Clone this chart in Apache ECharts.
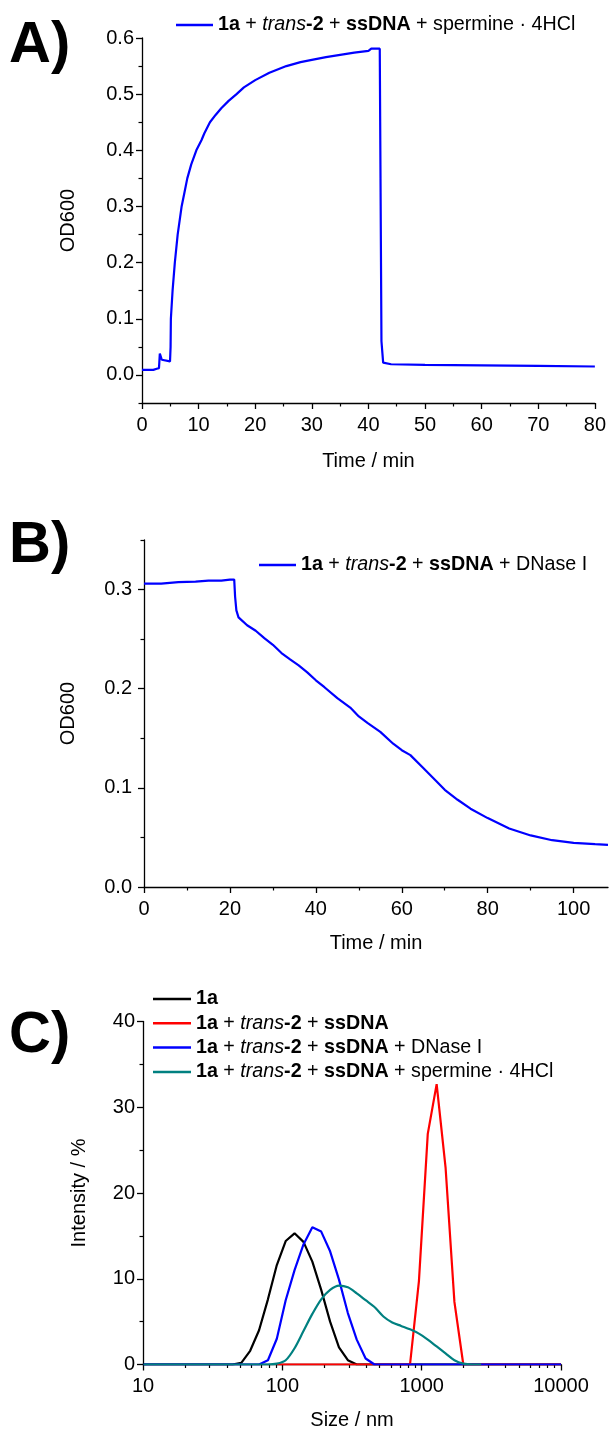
<!DOCTYPE html>
<html><head><meta charset="utf-8">
<script src="https://cdn.jsdelivr.net/npm/echarts@6/dist/echarts.min.js"></script>
<style>html,body{margin:0;padding:0;background:#fff}#c{width:609px;height:1432px}</style>
</head><body><div id="c"></div>
<script>
// ---- Panel A: turbidity vs time (spermine) ----
const timeA=[0,1,2,2.3,2.6,3.0,3.15,3.5,3.8,4.95,5.05,5.1,5.4,5.8,6.3,7.0,7.5,8.0,8.7,9.6,10.5,11,12,13,14,15.3,16.7,18,20,22.5,25.5,28,30,32.5,35,37.5,40,40.5,42.0,42.3,42.6,44,50,60,70,80];
const odA=[0.009,0.009,0.009,0.009,0.011,0.012,0.038,0.027,0.024,0.024,0.05,0.10,0.15,0.20,0.25,0.30,0.325,0.35,0.375,0.40,0.418,0.43,0.45,0.463,0.475,0.488,0.50,0.512,0.525,0.538,0.55,0.557,0.561,0.566,0.570,0.574,0.577,0.581,0.581,0.06,0.022,0.019,0.018,0.017,0.016,0.015];
// ---- Panel B: turbidity vs time (DNase I) ----
const timeB=[0,4,8,12,15,18,20,21,21.2,21.5,22,24,26,28,30,32,34,36,38,40,42,45,48,50,52,55,58,60,62,65,68,70,73,76,80,85,90,95,100,105,108];
const odB=[0.306,0.306,0.3075,0.308,0.309,0.309,0.310,0.310,0.293,0.279,0.272,0.264,0.2585,0.251,0.2443,0.236,0.2295,0.2235,0.2165,0.2085,0.2015,0.1905,0.181,0.172,0.1655,0.1565,0.1445,0.138,0.133,0.120,0.107,0.098,0.088,0.079,0.0695,0.059,0.052,0.0472,0.0445,0.0432,0.0425];
// ---- Panel C: DLS size distributions ----
const sizeBins=[10.1,11.7,13.54,15.69,18.17,21.04,24.36,28.21,32.67,37.84,43.82,50.75,58.77,68.06,78.82,91.28,105.7,122.4,141.8,164.2,190.1,220.2,255.0,295.3,342.0,396.1,458.7,531.2,615.1,712.4,825.0,955.4,1106,1281,1484,1718,1990,2305,2669,3091,3580,4145,4801,5560,6439,7456,8635,10000];
const int1a=[0,0,0,0,0,0,0,0,0,0,0,0.2,1.6,4.0,7.6,11.6,14.4,15.3,14.3,12.0,8.7,5.0,2.0,0.5,0,0,0,0,0,0,0,0,0,0,0,0,0,0,0,0,0,0,0,0,0,0,0,0];
const intDNA=[null,null,null,null,null,null,null,null,null,null,null,null,null,null,null,0,0,0,0,0,0,0,0,0,0,0,0,0,0,0,0,9.7,26.9,32.7,23.0,7.3,0,0,0,0,0,0,0,0,0,0,0,0];
const intDNase=[0,0,0,0,0,0,0,0,0,0,0,0,0,0,0.5,3.0,7.5,11.0,14.0,16.0,15.5,13.2,9.9,6.0,2.9,0.7,0,0,0,0,0,0,0,0,0,0,0,0,0,0,0,0,0,0,0,0,0,0];
const intSperm=[0,0,0,0,0,0,0,0,0,0,0,0,0,0,0,0.1,0.5,1.9,3.9,5.9,7.6,8.7,9.2,9.0,8.3,7.5,6.7,5.6,4.9,4.5,4.1,3.6,2.9,2.1,1.3,0.5,0.1,0,0,null,null,null,null,null,null,null,null,null];
// ---- tick values ----
const yTicksA=[0,0.1,0.2,0.3,0.4,0.5,0.6];
const yMinorA=[-0.05,0.05,0.15,0.25,0.35,0.45,0.55];
const xTicksA=[0,10,20,30,40,50,60,70,80];
const xMinorA=[5,15,25,35,45,55,65,75];
const yTicksB=[0,0.1,0.2,0.3];
const yMinorB=[0.05,0.15,0.25,0.35];
const xTicksB=[0,20,40,60,80,100];
const xMinorB=[10,30,50,70,90];
const yTicksC=[0,10,20,30,40];
const yMinorC=[5,15,25,35];
const xMinorC=[20,30,40,50,60,70,80,90,200,300,400,500,600,700,800,900,2000,3000,4000,5000,6000,7000,8000,9000];

const FF='"Liberation Sans", Arial, sans-serif';
const FS=20;
const LF=19.7;
const pairs=(xs,ys)=>xs.map((x,i)=>[x,ys[i]]).filter(p=>p[1]!=null);
const rich={
  n:{fontSize:LF,fontFamily:FF,color:'#000'},
  b:{fontSize:LF,fontFamily:FF,color:'#000',fontWeight:'bold'},
  i:{fontSize:LF,fontFamily:FF,color:'#000',fontStyle:'italic'}
};
const labels={
  'sA':'{b|1a}{n| + }{i|trans}{b|-2}{n| + }{b|ssDNA}{n| + spermine · 4HCl}',
  'sB':'{b|1a}{n| + }{i|trans}{b|-2}{n| + }{b|ssDNA}{n| + DNase I}',
  'c1':'{b|1a}',
  'c2':'{b|1a}{n| + }{i|trans}{b|-2}{n| + }{b|ssDNA}',
  'c3':'{b|1a}{n| + }{i|trans}{b|-2}{n| + }{b|ssDNA}{n| + DNase I}',
  'c4':'{b|1a}{n| + }{i|trans}{b|-2}{n| + }{b|ssDNA}{n| + spermine · 4HCl}'
};
const axLine={show:true,onZero:false,lineStyle:{color:'#000',width:1.3}};
const lab=(m,fmt)=>({show:true,margin:m,fontSize:FS,fontFamily:FF,color:'#000',formatter:fmt});
function mainAxis(grid,type,min,max,ticks,m,fmt,extra){
  return Object.assign({gridIndex:grid,type:type,min:min,max:max,axisLine:axLine,
    axisTick:{show:true,inside:false,length:6,lineStyle:{color:'#000',width:1.3},customValues:ticks},
    axisLabel:Object.assign(lab(m,fmt),ticks?{customValues:ticks}:{}),
    splitLine:{show:false},minorTick:{show:false}},extra||{});
}
function minorAxis(grid,type,min,max,vals,pos){
  return {gridIndex:grid,type:type,min:min,max:max,position:pos,offset:0,
    axisLine:{show:false,onZero:false},axisLabel:{show:false},splitLine:{show:false},
    axisTick:{show:true,inside:false,length:3.5,lineStyle:{color:'#000',width:1.2},customValues:vals}};
}
const f1=v=>v.toFixed(1);
const fi=v=>String(Math.round(v));
const nameStyle={fontSize:20,fontFamily:FF,color:'#000'};

const option={
  animation:false,
  backgroundColor:'#fff',
  grid:[
    {left:142,top:38,width:453,height:365},
    {left:144,top:540,width:464,height:347},
    {left:143,top:1021.5,width:418,height:343}
  ],
  xAxis:[
    mainAxis(0,'value',0,80,xTicksA,12,fi,{position:'bottom',name:'Time / min',nameLocation:'middle',nameGap:48,nameTextStyle:nameStyle}),
    minorAxis(0,'value',0,80,xMinorA,'bottom'),
    mainAxis(1,'value',0,108,xTicksB,12,fi,{position:'bottom',name:'Time / min',nameLocation:'middle',nameGap:46,nameTextStyle:nameStyle}),
    minorAxis(1,'value',0,108,xMinorB,'bottom'),
    mainAxis(2,'log',10,10000,null,12,fi,{position:'bottom',logBase:10,name:'Size / nm',nameLocation:'middle',nameGap:46,nameTextStyle:nameStyle}),
    minorAxis(2,'log',10,10000,xMinorC,'bottom')
  ],
  yAxis:[
    mainAxis(0,'value',-0.05,0.6,yTicksA,8,f1,{position:'left',name:'OD600',nameLocation:'middle',nameGap:64,nameTextStyle:nameStyle}),
    minorAxis(0,'value',-0.05,0.6,yMinorA,'left'),
    mainAxis(1,'value',0,0.35,yTicksB,12,f1,{position:'left',name:'OD600',nameLocation:'middle',nameGap:66,nameTextStyle:nameStyle}),
    minorAxis(1,'value',0,0.35,yMinorB,'left'),
    mainAxis(2,'value',0,40,yTicksC,8,fi,{position:'left',name:'Intensity / %',nameLocation:'middle',nameGap:54,nameTextStyle:nameStyle}),
    minorAxis(2,'value',0,40,yMinorC,'left')
  ],
  legend:[
    {data:['sA'],left:176,top:15,padding:0,icon:'rect',itemWidth:37,itemHeight:2.5,formatter:n=>labels[n],textStyle:{fontSize:LF,fontFamily:FF,rich:rich}},
    {data:['sB'],left:259,top:555,padding:0,icon:'rect',itemWidth:37,itemHeight:2.5,formatter:n=>labels[n],textStyle:{fontSize:LF,fontFamily:FF,rich:rich}},
    {data:['c1','c2','c3','c4'],orient:'vertical',left:153,top:989,padding:0,itemGap:4.3,icon:'rect',itemWidth:38,itemHeight:2.5,formatter:n=>labels[n],textStyle:{fontSize:LF,fontFamily:FF,rich:rich}}
  ],
  graphic:[
    {type:'text',left:9,top:17,style:{text:'A)',fontSize:58,fontWeight:'bold',fontFamily:FF,fill:'#000'}},
    {type:'text',left:9,top:517,style:{text:'B)',fontSize:58,fontWeight:'bold',fontFamily:FF,fill:'#000'}},
    {type:'text',left:9,top:1007,style:{text:'C)',fontSize:58,fontWeight:'bold',fontFamily:FF,fill:'#000'}}
  ],
  series:[
    {name:'sA',type:'line',xAxisIndex:0,yAxisIndex:0,data:pairs(timeA,odA),showSymbol:false,lineStyle:{width:2.2,color:'#0000ff'},itemStyle:{color:'#0000ff'}},
    {name:'sB',type:'line',xAxisIndex:2,yAxisIndex:2,data:pairs(timeB,odB),showSymbol:false,lineStyle:{width:2.2,color:'#0000ff'},itemStyle:{color:'#0000ff'}},
    {name:'c1',type:'line',xAxisIndex:4,yAxisIndex:4,data:pairs(sizeBins,int1a),showSymbol:false,lineStyle:{width:2.2,color:'#000000'},itemStyle:{color:'#000000'}},
    {name:'c2',type:'line',xAxisIndex:4,yAxisIndex:4,data:pairs(sizeBins,intDNA),showSymbol:false,lineStyle:{width:2.2,color:'#ff0000'},itemStyle:{color:'#ff0000'}},
    {name:'c3',type:'line',xAxisIndex:4,yAxisIndex:4,data:pairs(sizeBins,intDNase),showSymbol:false,lineStyle:{width:2.2,color:'#0000ff'},itemStyle:{color:'#0000ff'}},
    {name:'c4',type:'line',xAxisIndex:4,yAxisIndex:4,data:pairs(sizeBins,intSperm),showSymbol:false,smooth:0.3,lineStyle:{width:2.2,color:'#008080'},itemStyle:{color:'#008080'}}
  ]
};
const chart=echarts.init(document.getElementById('c'),null,{renderer:'canvas'});
chart.setOption(option);
</script></body></html>
